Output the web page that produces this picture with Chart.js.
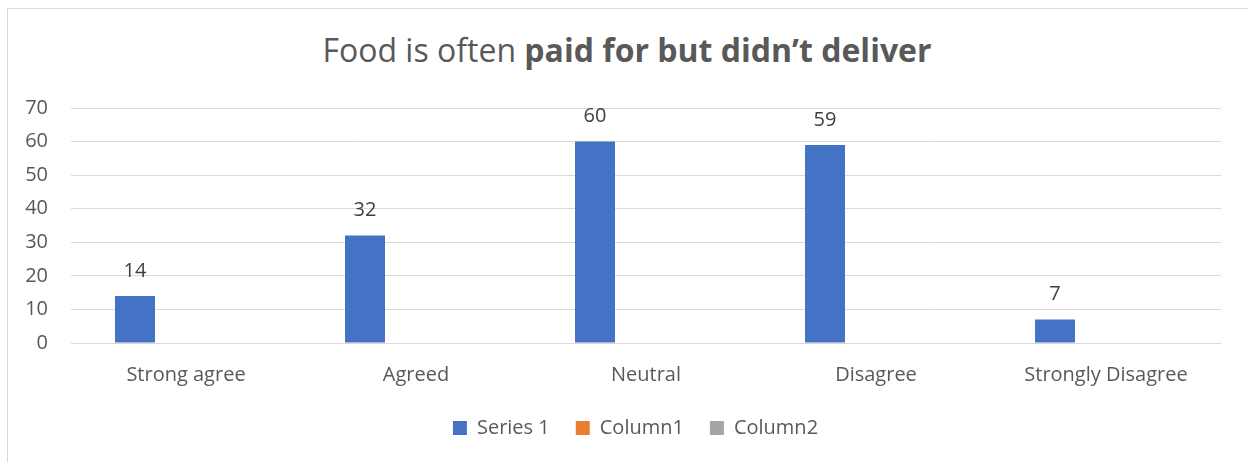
<!DOCTYPE html>
<html lang="en">
<head>
    <meta charset="UTF-8">
    <title>Food is often paid for but didn't deliver</title>
    <script src="https://cdn.jsdelivr.net/npm/chart.js"></script>
    <style>
        html, body { margin: 0; padding: 0; background: #FFFFFF; overflow: hidden; }
        body { width: 1248px; height: 462px; position: relative; font-family: 'Open Sans', sans-serif; }
        .chart-frame {
            position: absolute; left: 7px; top: 8px;
            width: 1260px; height: 470px;
            border: 1px solid #D9D9D9;
        }
        .chart-title {
            position: absolute; left: 0; top: 28px; width: 1254px;
            text-align: center; font-size: 32px; color: #595959;
            white-space: nowrap; line-height: 44px;
        }
        .chart-title b { font-weight: 700; }
        .chart-box { position: absolute; left: 0; top: 0; width: 1248px; height: 462px; }
    </style>
</head>
<body>
    <div class="chart-frame"></div>
    <div class="chart-title">Food is often <b>paid for but didn’t deliver</b></div>
    <div class="chart-box">
        <canvas id="barChartCanvas"></canvas>
    </div>

    <script>
        const categories = ['Strong agree', 'Agreed', 'Neutral', 'Disagree', 'Strongly Disagree'];
        const series1Values = [14, 32, 60, 59, 7];
        const column1Values = [null, null, null, null, null];
        const column2Values = [null, null, null, null, null];
        const yTicks = [0, 10, 20, 30, 40, 50, 60, 70];

        // draws the value above each bar of the first series
        const valueLabels = {
            id: 'valueLabels',
            afterDatasetsDraw(chart) {
                const ctx = chart.ctx;
                const meta = chart.getDatasetMeta(0);
                ctx.save();
                ctx.font = '20px "Open Sans"';
                ctx.fillStyle = '#404040';
                ctx.textAlign = 'center';
                ctx.textBaseline = 'middle';
                meta.data.forEach((bar, i) => {
                    const v = chart.data.datasets[0].data[i];
                    if (v == null) return;
                    ctx.fillText(v, bar.x, bar.y - 25);
                });
                ctx.restore();
            }
        };

        // nudge the legend box (excel centres it on the frame, not the canvas)
        const legendShift = {
            id: 'legendShift',
            afterLayout(chart) {
                const lg = chart.legend;
                if (!lg) return;
                lg.left += 25; lg.right += 25;
                lg.top -= 7; lg.bottom -= 7;
            }
        };

        const ctx = document.getElementById('barChartCanvas').getContext('2d');
        new Chart(ctx, {
            type: 'bar',
            data: {
                labels: categories,
                datasets: [
                    { label: 'Series 1', data: series1Values, backgroundColor: '#4472C4' },
                    { label: 'Column1', data: column1Values, backgroundColor: '#ED7D31' },
                    { label: 'Column2', data: column2Values, backgroundColor: '#A5A5A5' }
                ]
            },
            options: {
                responsive: true,
                maintainAspectRatio: false,
                animation: false,
                layout: { padding: { left: 0, right: 27, top: 108, bottom: 7 } },
                datasets: { bar: { barPercentage: 0.784, categoryPercentage: 0.665 } },
                scales: {
                    x: {
                        grid: { display: false },
                        border: { display: false },
                        ticks: { color: '#595959', font: { family: 'Open Sans', size: 20 }, padding: 12, maxRotation: 0 }
                    },
                    y: {
                        min: 0,
                        max: 70,
                        afterFit(scale) { scale.width = 71; },
                        afterBuildTicks(scale) { scale.ticks = yTicks.map(v => ({ value: v })); },
                        grid: { color: '#D9D9D9', lineWidth: 1, drawTicks: false },
                        border: { display: false },
                        ticks: { color: '#595959', font: { family: 'Open Sans', size: 20 }, padding: 23 }
                    }
                },
                plugins: {
                    legend: {
                        position: 'bottom',
                        labels: {
                            color: '#595959',
                            font: { family: 'Open Sans', size: 20 },
                            boxWidth: 14,
                            boxHeight: 14,
                            padding: 26
                        }
                    },
                    tooltip: { enabled: false }
                }
            },
            plugins: [valueLabels, legendShift]
        });
    </script>
</body>
</html>
